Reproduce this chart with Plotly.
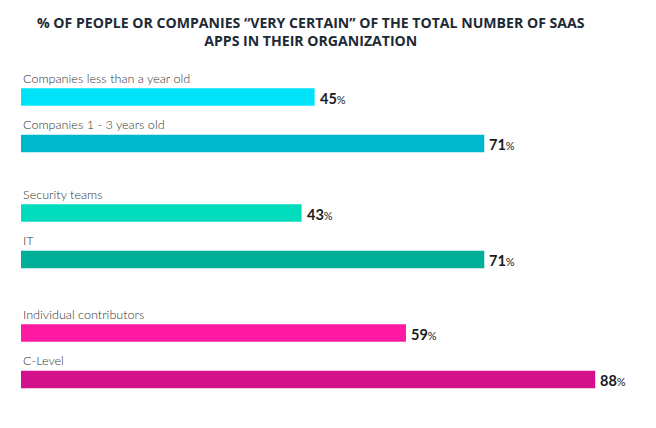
import plotly.graph_objects as go

# ---- data ----
categories = [
    "Companies less than a year old",
    "Companies 1 - 3 years old",
    "Security teams",
    "IT",
    "Individual contributors",
    "C-Level",
]
values = [45, 71, 43, 71, 59, 88]
groups = [0, 0, 1, 1, 2, 2]
bar_colors = ["#00E2F8", "#00B8CE", "#00DCBB", "#00AF98", "#FF1AA3", "#D3118A"]
title_text = ("% OF PEOPLE OR COMPANIES \u201cVERY CERTAIN\u201d OF THE TOTAL NUMBER OF SAAS"
              "<br>APPS IN THEIR ORGANIZATION")

# ---- layout constants ----
PAGE_OFF = 8            # default body margin of the page
W, H = 656 - PAGE_OFF, 428 - PAGE_OFF
L, R = 21 - PAGE_OFF, 10
PX_PER_PCT = 6.525
group_start = [97, 213, 333]
pair_step = 46.5
positions = []
seen = {}
for g in groups:
    k = seen.get(g, 0)
    positions.append(group_start[g] + k * pair_step)
    seen[g] = k + 1

plot_w = W - L - R

fig = go.Figure(
    go.Bar(
        x=values,
        y=positions,
        orientation="h",
        width=17.5,
        marker=dict(color=bar_colors, line=dict(width=0)),
        hoverinfo="skip",
    )
)

annotations = []
for cat, v, p in zip(categories, values, positions):
    annotations.append(dict(
        x=0, y=p - 19, xref="x", yref="y", text=cat, showarrow=False,
        xanchor="left", yanchor="middle", xshift=0,
        font=dict(family="Lato", size=12.6, color="#333333", weight=300),
    ))
    annotations.append(dict(
        x=v, y=p + 1, xref="x", yref="y",
        text=f"<b>{v}</b><span style='font-size:11px'>%</span>",
        showarrow=False, xanchor="left", yanchor="middle", xshift=3,
        font=dict(family="Lato", size=14.5, color="#1a1a1a"),
    ))

annotations.append(dict(
    x=(311 - 21) / plot_w, y=31, xref="paper", yref="y",
    text="<b>" + title_text + "</b>",
    showarrow=False, xanchor="center", yanchor="middle",
    font=dict(family="Open Sans", size=14.1, color="#1d2a35"),
))

fig.update_layout(
    width=W, height=H,
    margin=dict(l=L, r=R, t=0, b=0),
    paper_bgcolor="white", plot_bgcolor="white",
    xaxis=dict(range=[0, plot_w / PX_PER_PCT], visible=False, fixedrange=True),
    yaxis=dict(range=[H + PAGE_OFF, PAGE_OFF], visible=False, fixedrange=True),
    showlegend=False,
    annotations=annotations,
)

fig.write_html("out.html")
